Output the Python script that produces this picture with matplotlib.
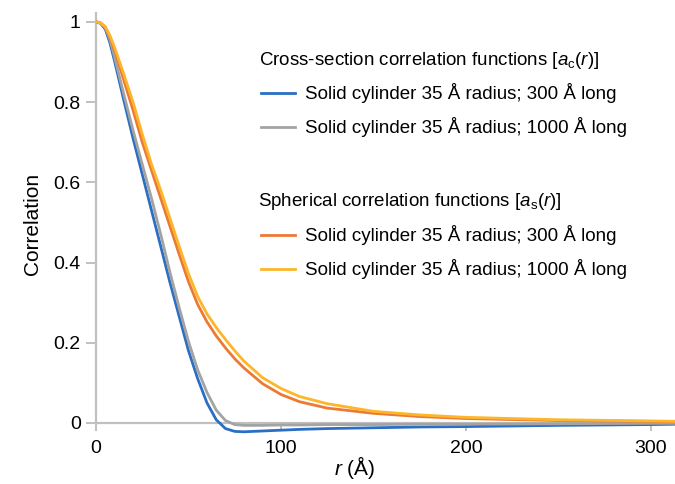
import matplotlib
matplotlib.use("Agg")
import matplotlib.pyplot as plt
from matplotlib.lines import Line2D

plt.rcParams['font.family'] = ['Liberation Sans', 'DejaVu Sans']
plt.rcParams['mathtext.fontset'] = 'custom'
plt.rcParams['mathtext.rm'] = 'Liberation Sans'
plt.rcParams['mathtext.it'] = 'Liberation Sans:italic'

# ---- data ----
r_vals = [0, 2.5, 5, 7.5, 10, 15, 20, 25, 30, 35, 40, 45, 50, 55, 60, 65, 70, 75, 80,
          90, 100, 110, 125, 150, 175, 200, 250, 300, 315]

cross_300 = [1.0, 0.996, 0.982, 0.948, 0.903, 0.805, 0.71, 0.62, 0.53, 0.44, 0.35, 0.265, 0.18,
             0.11, 0.05, 0.008, -0.014, -0.021, -0.022,
             -0.020, -0.018, -0.016, -0.014, -0.012, -0.010, -0.009, -0.006, -0.004, -0.003]
cross_1000 = [1.0, 0.997, 0.986, 0.956, 0.913, 0.82, 0.73, 0.645, 0.56, 0.47, 0.375, 0.287, 0.203,
              0.132, 0.076, 0.032, 0.006, -0.004, -0.006,
              -0.006, -0.005, -0.005, -0.004, -0.004, -0.003, -0.003, -0.002, -0.001, -0.001]
sph_300 = [1.0, 0.997, 0.987, 0.962, 0.93, 0.855, 0.78, 0.70, 0.63, 0.56, 0.49, 0.42, 0.352,
           0.295, 0.252, 0.217, 0.187, 0.16, 0.137,
           0.098, 0.071, 0.053, 0.037, 0.024, 0.016, 0.011, 0.006, 0.004, 0.003]
sph_1000 = [1.0, 0.997, 0.988, 0.966, 0.937, 0.87, 0.80, 0.72, 0.645, 0.58, 0.51, 0.44, 0.372,
            0.315, 0.272, 0.238, 0.208, 0.18, 0.154,
            0.113, 0.086, 0.066, 0.048, 0.029, 0.020, 0.014, 0.008, 0.005, 0.004]

x_ticks = [0, 100, 200, 300]
y_ticks = [0, 0.2, 0.4, 0.6, 0.8, 1.0]
y_tick_labels = ['0', '0.2', '0.4', '0.6', '0.8', '1']

group_titles = [r'Cross-section correlation functions [$\mathit{a}_\mathrm{c}(\mathit{r})$]',
                r'Spherical correlation functions [$\mathit{a}_\mathrm{s}(\mathit{r})$]']
series_labels = ['Solid cylinder 35 Å radius; 300 Å long',
                 'Solid cylinder 35 Å radius; 1000 Å long',
                 'Solid cylinder 35 Å radius; 300 Å long',
                 'Solid cylinder 35 Å radius; 1000 Å long']
colors = ['#2a6fc4', '#a3a3a3', '#ec7a35', '#fdb529']

# ---- figure ----
fig = plt.figure(figsize=(6.75, 4.84), dpi=100)
ax = fig.add_axes([96/675, 49/484, 579/675, 422/484])

series = [cross_300, cross_1000, sph_300, sph_1000]
zorders = [3, 3, 4, 4]
for s, c, z in zip(series, colors, zorders):
    ax.plot(r_vals, s, color=c, lw=2.0, zorder=z, solid_capstyle='round',
            solid_joinstyle='round')

ax.set_xlim(0, 313)
ax.set_ylim(-0.03, 1.022)

for sp in ['top', 'right']:
    ax.spines[sp].set_visible(False)
spine_c = '#c0c0c0'
ax.spines['bottom'].set_position(('data', 0))
ax.spines['left'].set_bounds(0, 1.022)
for sp in ['bottom', 'left']:
    ax.spines[sp].set_color(spine_c)
    ax.spines[sp].set_linewidth(1.6)
    ax.spines[sp].set_zorder(2)

ax.set_xticks(x_ticks)
ax.set_yticks(y_ticks)
ax.set_yticklabels(y_tick_labels)
ax.tick_params(axis='both', colors=spine_c, labelcolor='black', labelsize=14,
               direction='out', width=1.4)
ax.tick_params(axis='y', length=7, pad=4)
ax.tick_params(axis='x', length=6, pad=6)

ax.set_ylabel('Correlation', fontsize=15, labelpad=8)
ax.set_xlabel(r'$\mathit{r}$ (Å)', fontsize=15)
ax.xaxis.set_label_coords((355 - 96) / 579, -0.045)

# ---- legend drawn manually ----
def px(x, y):
    return ((x - 96) / 579, (435 - y) / 422)

title_pos = [(259, 60), (258, 202)]
line_y = [93, 127, 235, 269]
for (tx, ty), t in zip(title_pos, group_titles):
    ax.text(*px(tx, ty), t, transform=ax.transAxes, fontsize=13.5,
            ha='left', va='center')
for ly, lab, c in zip(line_y, series_labels, colors):
    x0, y0 = px(261, ly)
    x1, _ = px(295, ly)
    ax.add_line(Line2D([x0, x1], [y0, y0], transform=ax.transAxes, color=c, lw=2.0))
    ax.text(*px(305, ly), lab, transform=ax.transAxes, fontsize=13.5,
            ha='left', va='center')

fig.savefig('out.png', dpi=100)
